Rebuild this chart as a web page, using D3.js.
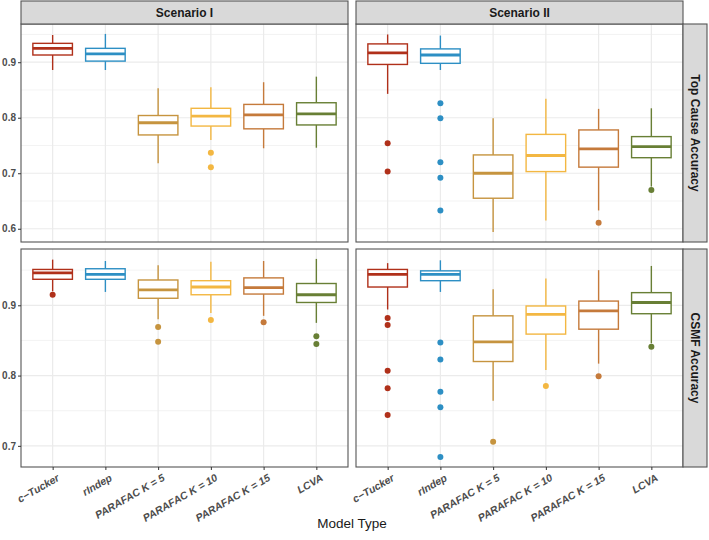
<!DOCTYPE html>
<meta charset="utf-8">
<script src="https://d3js.org/d3.v7.min.js"></script>
<style>
  body { margin: 0; background: #fff; }
  svg { font-family: "Liberation Sans", Arial, sans-serif; }
</style>
<div id="chart"></div>
<script>

// Categories and facets
var models = ["c\u2212Tucker", "rIndep", "PARAFAC K = 5", "PARAFAC K = 10", "PARAFAC K = 15", "LCVA"];
var scenarios = ["Scenario I", "Scenario II"];
var metrics = ["Top Cause Accuracy", "CSMF Accuracy"];
var colors = ["#b0301a", "#2d8fc4", "#c6943f", "#f3b742", "#c57a3b", "#687f35"];

// Box stats: [lowerWhisker, q1, median, q3, upperWhisker]
var topS1 = [
  [0.886, 0.913, 0.925, 0.934, 0.949],
  [0.886, 0.902, 0.915, 0.925, 0.951],
  [0.718, 0.769, 0.791, 0.804, 0.853],
  [0.760, 0.785, 0.803, 0.817, 0.855],
  [0.745, 0.780, 0.805, 0.824, 0.864],
  [0.746, 0.787, 0.807, 0.827, 0.874]
];
var topS1Out = [[], [], [], [0.737, 0.711], [], []];

var topS2 = [
  [0.843, 0.896, 0.917, 0.933, 0.950],
  [0.886, 0.898, 0.913, 0.924, 0.948],
  [0.594, 0.655, 0.700, 0.733, 0.799],
  [0.615, 0.703, 0.732, 0.770, 0.834],
  [0.633, 0.711, 0.744, 0.778, 0.816],
  [0.676, 0.728, 0.748, 0.766, 0.817]
];
var topS2Out = [[0.754, 0.703], [0.826, 0.799, 0.720, 0.692, 0.633], [], [], [0.611], [0.670]];

var csmfS1 = [
  [0.920, 0.937, 0.946, 0.951, 0.965],
  [0.919, 0.937, 0.944, 0.952, 0.963],
  [0.880, 0.910, 0.922, 0.936, 0.957],
  [0.889, 0.915, 0.926, 0.935, 0.962],
  [0.885, 0.916, 0.925, 0.939, 0.963],
  [0.875, 0.904, 0.915, 0.931, 0.966]
];
var csmfS1Out = [[0.915], [], [0.869, 0.848], [0.879], [0.876], [0.856, 0.845]];

var csmfS2 = [
  [0.894, 0.926, 0.944, 0.951, 0.960],
  [0.919, 0.935, 0.944, 0.949, 0.964],
  [0.764, 0.820, 0.848, 0.885, 0.923],
  [0.808, 0.859, 0.887, 0.899, 0.938],
  [0.817, 0.866, 0.892, 0.906, 0.950],
  [0.846, 0.888, 0.904, 0.918, 0.956]
];
var csmfS2Out = [[0.882, 0.872, 0.807, 0.782, 0.744], [0.847, 0.823, 0.777, 0.755, 0.684], [0.706], [0.785], [0.799], [0.841]];

var topTicks = [0.6, 0.7, 0.8, 0.9];
var csmfTicks = [0.7, 0.8, 0.9];

var panels = [
  {row: 0, col: 0, stats: topS1, out: topS1Out},
  {row: 0, col: 1, stats: topS2, out: topS2Out},
  {row: 1, col: 0, stats: csmfS1, out: csmfS1Out},
  {row: 1, col: 1, stats: csmfS2, out: csmfS2Out}
];

// Layout
var W = 709, H = 540;
var colX = [21, 356], panelW = 327;
var rowY = [24, 249], panelH = 218;
var stripH = 23, stripW = 24;

var svg = d3.select("#chart").append("svg")
  .attr("width", W).attr("height", H);

// y scale per row, free scales with 5% expansion like ggplot
function rowExtent(row) {
  var vals = [];
  panels.filter(function(p){ return p.row === row; }).forEach(function(p) {
    p.stats.forEach(function(s){ vals.push(s[0], s[4]); });
    p.out.forEach(function(o){ o.forEach(function(v){ vals.push(v); }); });
  });
  var e = d3.extent(vals), pad = (e[1] - e[0]) * 0.05;
  return [e[0] - pad, e[1] + pad];
}
var yScales = [0, 1].map(function(r) {
  return d3.scaleLinear().domain(rowExtent(r)).range([rowY[r] + panelH, rowY[r]]);
});
var rowTicks = [topTicks, csmfTicks];

var x = d3.scalePoint().domain(models).range([0, panelW]).padding(0.6);
var step = x.step();
var boxW = step * 0.75;
var grid = "#ebebeb";

panels.forEach(function(p) {
  var y = yScales[p.row];
  var g = svg.append("g").attr("transform", "translate(" + colX[p.col] + ",0)");

  // minor grid
  var ticks = rowTicks[p.row];
  var minor = [];
  var dom = y.domain();
  for (var t = ticks[0] - 0.05; t < dom[1]; t += 0.1) {
    if (t > dom[0]) minor.push(+t.toFixed(3));
  }
  g.selectAll(".minor").data(minor).enter().append("line")
    .attr("x1", 0).attr("x2", panelW)
    .attr("y1", function(d){ return y(d); }).attr("y2", function(d){ return y(d); })
    .attr("stroke", grid).attr("stroke-width", 0.6);
  g.selectAll(".major").data(ticks).enter().append("line")
    .attr("x1", 0).attr("x2", panelW)
    .attr("y1", function(d){ return y(d); }).attr("y2", function(d){ return y(d); })
    .attr("stroke", grid).attr("stroke-width", 1.2);
  g.selectAll(".vgrid").data(models).enter().append("line")
    .attr("x1", function(d){ return x(d); }).attr("x2", function(d){ return x(d); })
    .attr("y1", rowY[p.row]).attr("y2", rowY[p.row] + panelH)
    .attr("stroke", grid).attr("stroke-width", 1.2);

  // boxes
  p.stats.forEach(function(s, i) {
    var cx = x(models[i]), c = colors[i];
    var b = g.append("g");
    b.append("line").attr("x1", cx).attr("x2", cx)
      .attr("y1", y(s[4])).attr("y2", y(s[3]))
      .attr("stroke", c).attr("stroke-width", 1.4);
    b.append("line").attr("x1", cx).attr("x2", cx)
      .attr("y1", y(s[1])).attr("y2", y(s[0]))
      .attr("stroke", c).attr("stroke-width", 1.4);
    b.append("rect")
      .attr("x", cx - boxW / 2).attr("width", boxW)
      .attr("y", y(s[3])).attr("height", y(s[1]) - y(s[3]))
      .attr("fill", "#fff").attr("stroke", c).attr("stroke-width", 1.4);
    b.append("line").attr("x1", cx - boxW / 2).attr("x2", cx + boxW / 2)
      .attr("y1", y(s[2])).attr("y2", y(s[2]))
      .attr("stroke", c).attr("stroke-width", 2.8);
    b.selectAll("circle").data(p.out[i]).enter().append("circle")
      .attr("cx", cx).attr("cy", function(d){ return y(d); })
      .attr("r", 3).attr("fill", c);
  });

  // panel border
  g.append("rect")
    .attr("x", 0).attr("y", rowY[p.row])
    .attr("width", panelW).attr("height", panelH)
    .attr("fill", "none").attr("stroke", "#555").attr("stroke-width", 1.1);
});

// top strips
scenarios.forEach(function(s, i) {
  svg.append("rect")
    .attr("x", colX[i]).attr("y", rowY[0] - stripH)
    .attr("width", panelW).attr("height", stripH)
    .attr("fill", "#d9d9d9").attr("stroke", "#555").attr("stroke-width", 1.1);
  svg.append("text")
    .attr("x", colX[i] + panelW / 2).attr("y", rowY[0] - stripH / 2)
    .attr("text-anchor", "middle").attr("dominant-baseline", "central")
    .style("font-size", "12px").style("font-weight", "bold").attr("fill", "#1a1a1a")
    .text(s);
});

// right strips
metrics.forEach(function(m, r) {
  var sx = colX[1] + panelW;
  svg.append("rect")
    .attr("x", sx).attr("y", rowY[r])
    .attr("width", stripW).attr("height", panelH)
    .attr("fill", "#d9d9d9").attr("stroke", "#555").attr("stroke-width", 1.1);
  var cx = sx + stripW / 2, cy = rowY[r] + panelH / 2;
  svg.append("text")
    .attr("transform", "translate(" + cx + "," + cy + ") rotate(90)")
    .attr("text-anchor", "middle").attr("dominant-baseline", "central")
    .style("font-size", "12px").style("font-weight", "bold").attr("fill", "#1a1a1a")
    .text(m);
});

// y axes
[0, 1].forEach(function(r) {
  var ax = svg.append("g")
    .attr("transform", "translate(" + colX[0] + ",0)")
    .call(d3.axisLeft(yScales[r]).tickValues(rowTicks[r]).tickSize(3).tickPadding(2)
      .tickFormat(d3.format(".1f")));
  ax.select(".domain").remove();
  ax.selectAll("line").attr("stroke", "#333");
  ax.selectAll("text").style("font-size", "10px").style("font-weight", "bold").attr("fill", "#4d4d4d");
});

// x axes
colX.forEach(function(cx0) {
  var ax = svg.append("g")
    .attr("transform", "translate(" + cx0 + "," + (rowY[1] + panelH) + ")")
    .call(d3.axisBottom(x).tickSize(3).tickPadding(2));
  ax.select(".domain").remove();
  ax.selectAll("line").attr("stroke", "#333");
  ax.selectAll("text")
    .attr("text-anchor", "end")
    .attr("dy", null).attr("y", 0)
    .attr("transform", "translate(3,6) rotate(-30)")
    .attr("dominant-baseline", "hanging")
    .style("font-size", "10.5px").style("font-weight", "bold").style("font-style", "italic")
    .attr("fill", "#4d4d4d");
});

// x title
svg.append("text")
  .attr("x", (colX[0] + colX[1] + panelW) / 2).attr("y", 528)
  .attr("text-anchor", "middle")
  .style("font-size", "13.5px").attr("fill", "#1a1a1a")
  .text("Model Type");

</script>
